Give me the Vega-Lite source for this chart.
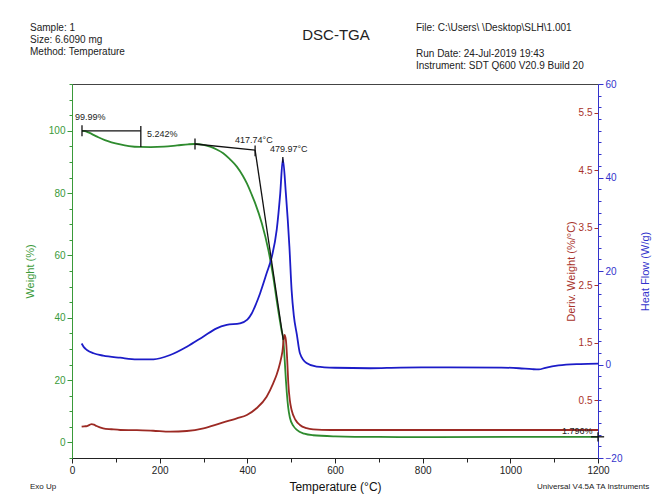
{
  "$schema": "https://vega.github.io/schema/vega-lite/v6.json",
  "width": 526,
  "height": 374,
  "autosize": "none",
  "padding": {"left": 72, "top": 84, "right": 64, "bottom": 43},
  "background": "white",
  "config": {
    "font": "Liberation Sans",
    "view": {"stroke": "#444", "strokeWidth": 1},
    "axis": {"grid": false, "labelFont": "Liberation Sans", "titleFont": "Liberation Sans", "titleFontWeight": "normal", "labelOverlap": false, "labelFlush": false}
  },
  "datasets": {
    "wt": [
      {"T": 22.8, "W": 99.99}, {"T": 30, "W": 99.9}, {"T": 40, "W": 99.3}, {"T": 50, "W": 98.6},
      {"T": 60, "W": 97.9}, {"T": 75, "W": 97.0}, {"T": 90, "W": 96.3}, {"T": 110, "W": 95.6},
      {"T": 130, "W": 95.1}, {"T": 155, "W": 94.8}, {"T": 180, "W": 94.75}, {"T": 210, "W": 94.9},
      {"T": 240, "W": 95.3}, {"T": 265, "W": 95.65}, {"T": 280, "W": 95.75}, {"T": 300, "W": 95.5},
      {"T": 315, "W": 94.9}, {"T": 330, "W": 94.0}, {"T": 345, "W": 92.8}, {"T": 360, "W": 90.9},
      {"T": 376, "W": 88.5}, {"T": 390, "W": 85.5}, {"T": 399, "W": 83.1}, {"T": 410, "W": 79.5},
      {"T": 418, "W": 76.7}, {"T": 433, "W": 70.3}, {"T": 448, "W": 61.7}, {"T": 459, "W": 53.2},
      {"T": 468, "W": 44.6}, {"T": 478, "W": 36.0}, {"T": 482, "W": 33.0}, {"T": 485, "W": 27.0},
      {"T": 488, "W": 20.0}, {"T": 490, "W": 16.0}, {"T": 493, "W": 11.5}, {"T": 497, "W": 8.0},
      {"T": 505, "W": 5.3}, {"T": 513, "W": 4.0}, {"T": 530, "W": 2.8}, {"T": 550, "W": 2.3},
      {"T": 600, "W": 1.95}, {"T": 700, "W": 1.75}, {"T": 800, "W": 1.72}, {"T": 1000, "W": 1.75},
      {"T": 1200, "W": 1.796}
    ],
    "dv": [
      {"T": 22, "D": 0.044}, {"T": 28, "D": 0.05}, {"T": 34, "D": 0.056}, {"T": 40, "D": 0.075},
      {"T": 45, "D": 0.09}, {"T": 50, "D": 0.08}, {"T": 56, "D": 0.056}, {"T": 71, "D": 0.016},
      {"T": 90, "D": 0.0}, {"T": 110, "D": -0.013}, {"T": 148, "D": -0.015}, {"T": 185, "D": -0.026},
      {"T": 224, "D": -0.043}, {"T": 262, "D": -0.031}, {"T": 300, "D": 0.016}, {"T": 338, "D": 0.103},
      {"T": 376, "D": 0.19}, {"T": 399, "D": 0.247}, {"T": 421, "D": 0.364}, {"T": 444, "D": 0.565},
      {"T": 459, "D": 0.798}, {"T": 467, "D": 0.95}, {"T": 474.5, "D": 1.146}, {"T": 480, "D": 1.35},
      {"T": 484.8, "D": 1.638}, {"T": 488, "D": 1.55}, {"T": 491, "D": 1.2}, {"T": 493.5, "D": 0.8},
      {"T": 497, "D": 0.5}, {"T": 501, "D": 0.334}, {"T": 510, "D": 0.16}, {"T": 520, "D": 0.074},
      {"T": 535, "D": 0.02}, {"T": 550, "D": -0.001}, {"T": 590, "D": -0.013}, {"T": 800, "D": -0.013},
      {"T": 1000, "D": -0.013}, {"T": 1200, "D": -0.013}
    ],
    "hf": [
      {"T": 22, "H": 4.5}, {"T": 28, "H": 3.6}, {"T": 34, "H": 3.1}, {"T": 49, "H": 2.4},
      {"T": 71, "H": 1.9}, {"T": 110, "H": 1.45}, {"T": 148, "H": 1.11}, {"T": 186, "H": 1.11},
      {"T": 224, "H": 2.03}, {"T": 262, "H": 3.81}, {"T": 300, "H": 6.0}, {"T": 330, "H": 7.74},
      {"T": 353, "H": 8.45}, {"T": 383, "H": 8.81}, {"T": 400, "H": 9.6}, {"T": 410, "H": 10.9},
      {"T": 420, "H": 13.0}, {"T": 429, "H": 15.2}, {"T": 444, "H": 19.5}, {"T": 456, "H": 23.1},
      {"T": 467, "H": 28.8}, {"T": 475, "H": 36.5}, {"T": 481, "H": 43.9}, {"T": 488, "H": 36.5},
      {"T": 496, "H": 25.2}, {"T": 501, "H": 15.9}, {"T": 506, "H": 10.5}, {"T": 513, "H": 6.4},
      {"T": 520, "H": 2.4}, {"T": 535, "H": 0.3}, {"T": 558, "H": -0.47}, {"T": 600, "H": -0.7},
      {"T": 680, "H": -0.8}, {"T": 750, "H": -0.65}, {"T": 860, "H": -0.6}, {"T": 980, "H": -0.65},
      {"T": 1020, "H": -0.8}, {"T": 1050, "H": -1.0}, {"T": 1065, "H": -1.05}, {"T": 1080, "H": -0.7},
      {"T": 1110, "H": -0.2}, {"T": 1160, "H": 0.1}, {"T": 1200, "H": 0.2}
    ],
    "rules": [
      {"T1": 22.8, "W1": 99.99, "T2": 157, "W2": 99.99},
      {"T1": 22.8, "W1": 98.2, "T2": 22.8, "W2": 101.8},
      {"T1": 157, "W1": 101.5, "T2": 157, "W2": 94.75},
      {"T1": 280.6, "W1": 95.75, "T2": 417.74, "W2": 93.8},
      {"T1": 280.6, "W1": 94.0, "T2": 280.6, "W2": 97.5},
      {"T1": 417.74, "W1": 91.8, "T2": 417.74, "W2": 95.3},
      {"T1": 417.74, "W1": 93.8, "T2": 482, "W2": 32.9},
      {"T1": 481, "W1": 89.7, "T2": 481, "W2": 91.6},
      {"T1": 1184, "W1": 1.8, "T2": 1214, "W2": 1.8},
      {"T1": 1200, "W1": 0.3, "T2": 1200, "W2": 3.3}
    ],
    "notes": [
      {"T": 6.8, "W": 104.4, "label": "99.99%"},
      {"T": 171.1, "W": 98.95, "label": "5.242%"},
      {"T": 371.9, "W": 97.0, "label": "417.74°C"},
      {"T": 451.7, "W": 94.1, "label": "479.97°C"},
      {"T": 1117.9, "W": 3.66, "label": "1.796%"}
    ],
    "header": [
      {"T": -95.8, "W": 132.97, "label": "Sample: 1"},
      {"T": -95.8, "W": 129.12, "label": "Size:  6.6090 mg"},
      {"T": -95.8, "W": 125.27, "label": "Method: Temperature"},
      {"T": 784.8, "W": 132.97, "label": "File: C:\\Users\\  \\Desktop\\SLH\\1.001"},
      {"T": 784.8, "W": 124.63, "label": "Run Date: 24-Jul-2019 19:43"},
      {"T": 784.8, "W": 120.78, "label": "Instrument: SDT Q600 V20.9 Build 20"}
    ],
    "heading": [
      {"T": 602.3, "W": 130.7, "label": "DSC-TGA"}
    ],
    "footer": [
      {"T": -95.8, "W": -14.3, "label": "Exo Up"},
      {"T": 1060.8, "W": -14.3, "label": "Universal V4.5A TA Instruments"}
    ]
  },
  "layer": [
    {
      "data": {"name": "wt"},
      "mark": {"type": "line", "color": "#2e8b2e", "strokeWidth": 1.8, "interpolate": "monotone"},
      "encoding": {
        "x": {
          "field": "T", "type": "quantitative",
          "scale": {"domain": [0, 1200], "nice": false, "zero": false},
          "axis": {
            "title": "Temperature (°C)", "titleFontSize": 12, "titleColor": "#111", "titlePadding": 6,
            "values": [0,50,100,150,200,250,300,350,400,450,500,550,600,650,700,750,800,850,900,950,1000,1050,1100,1150,1200],
            "labelExpr": "datum.value % 200 === 0 ? datum.label : ''",
            "format": "d", "labelFontSize": 10, "labelColor": "#222",
            "domainColor": "#222", "tickColor": "#222",
            "tickSize": {"condition": {"test": "datum.value % 200 === 0", "value": 5}, "value": 4}
          }
        },
        "y": {
          "field": "W", "type": "quantitative",
          "scale": {"domain": [-5, 115], "nice": false, "zero": false},
          "axis": {
            "orient": "left", "title": "Weight (%)", "titleFontSize": 11, "titleColor": "#3a9a3a", "titlePadding": 13,
            "values": [-5,0,5,10,15,20,25,30,35,40,45,50,55,60,65,70,75,80,85,90,95,100,105,110,115],
            "labelExpr": "datum.value % 20 === 0 ? datum.label : ''",
            "format": "d", "labelFontSize": 10, "labelColor": "#3a9a3a",
            "domainColor": "#3a9a3a", "tickColor": "#3a9a3a",
            "tickSize": {"condition": {"test": "datum.value % 20 === 0", "value": 5}, "value": 3}
          }
        }
      }
    },
    {
      "data": {"name": "dv"},
      "mark": {"type": "line", "color": "#9c2a24", "strokeWidth": 1.8, "interpolate": "monotone"},
      "encoding": {
        "x": {"field": "T", "type": "quantitative"},
        "y": {
          "field": "D", "type": "quantitative",
          "scale": {"domain": [-0.5, 6.0], "nice": false, "zero": false},
          "axis": {
            "orient": "left", "offset": -526, "title": "Deriv. Weight (%/°C)", "titleFontSize": 11, "titleColor": "#a8322a", "titlePadding": 2,
            "values": [0.5, 1.5, 2.5, 3.5, 4.5, 5.5],
            "format": ".1f", "labelFontSize": 10, "labelColor": "#a8322a",
            "domain": false, "tickColor": "#a8322a", "tickSize": 4
          }
        }
      }
    },
    {
      "data": {"name": "hf"},
      "mark": {"type": "line", "color": "#1c1cc8", "strokeWidth": 1.8, "interpolate": "monotone"},
      "encoding": {
        "x": {"field": "T", "type": "quantitative"},
        "y": {
          "field": "H", "type": "quantitative",
          "scale": {"domain": [-20, 60], "nice": false, "zero": false},
          "axis": {
            "orient": "right", "title": "Heat Flow (W/g)", "titleFontSize": 11, "titleColor": "#3333cc", "titleAngle": 270, "titlePadding": 29,
            "values": [-20,-17.5,-15,-12.5,-10,-7.5,-5,-2.5,0,2.5,5,7.5,10,12.5,15,17.5,20,22.5,25,27.5,30,32.5,35,37.5,40,42.5,45,47.5,50,52.5,55,57.5,60],
            "labelExpr": "datum.value % 20 === 0 ? datum.label : ''",
            "format": "d", "labelFontSize": 10, "labelColor": "#3333cc",
            "domainColor": "#3333cc", "tickColor": "#3333cc",
            "tickSize": {"condition": {"test": "datum.value % 20 === 0", "value": 5}, "value": 3}
          }
        }
      }
    },
    {
      "data": {"name": "rules"},
      "mark": {"type": "rule", "color": "#111", "strokeWidth": 1.3},
      "encoding": {
        "x": {"field": "T1", "type": "quantitative"},
        "x2": {"field": "T2"},
        "y": {"field": "W1", "type": "quantitative", "scale": {"domain": [-5, 115], "nice": false, "zero": false}, "axis": null},
        "y2": {"field": "W2"}
      }
    },
    {
      "data": {"name": "notes"},
      "mark": {"type": "text", "align": "left", "baseline": "middle", "fontSize": 9, "color": "#222"},
      "encoding": {
        "x": {"field": "T", "type": "quantitative"},
        "y": {"field": "W", "type": "quantitative", "scale": {"domain": [-5, 115], "nice": false, "zero": false}, "axis": null},
        "text": {"field": "label"}
      }
    },
    {
      "data": {"name": "header"},
      "mark": {"type": "text", "align": "left", "baseline": "middle", "fontSize": 10, "color": "#222"},
      "encoding": {
        "x": {"field": "T", "type": "quantitative"},
        "y": {"field": "W", "type": "quantitative", "scale": {"domain": [-5, 115], "nice": false, "zero": false}, "axis": null},
        "text": {"field": "label"}
      }
    },
    {
      "data": {"name": "heading"},
      "mark": {"type": "text", "align": "center", "baseline": "middle", "fontSize": 15, "color": "#222"},
      "encoding": {
        "x": {"field": "T", "type": "quantitative"},
        "y": {"field": "W", "type": "quantitative", "scale": {"domain": [-5, 115], "nice": false, "zero": false}, "axis": null},
        "text": {"field": "label"}
      }
    },
    {
      "data": {"name": "footer"},
      "mark": {"type": "text", "align": "left", "baseline": "middle", "fontSize": 8, "color": "#222"},
      "encoding": {
        "x": {"field": "T", "type": "quantitative"},
        "y": {"field": "W", "type": "quantitative", "scale": {"domain": [-5, 115], "nice": false, "zero": false}, "axis": null},
        "text": {"field": "label"}
      }
    }
  ],
  "resolve": {"scale": {"y": "independent"}}
}
